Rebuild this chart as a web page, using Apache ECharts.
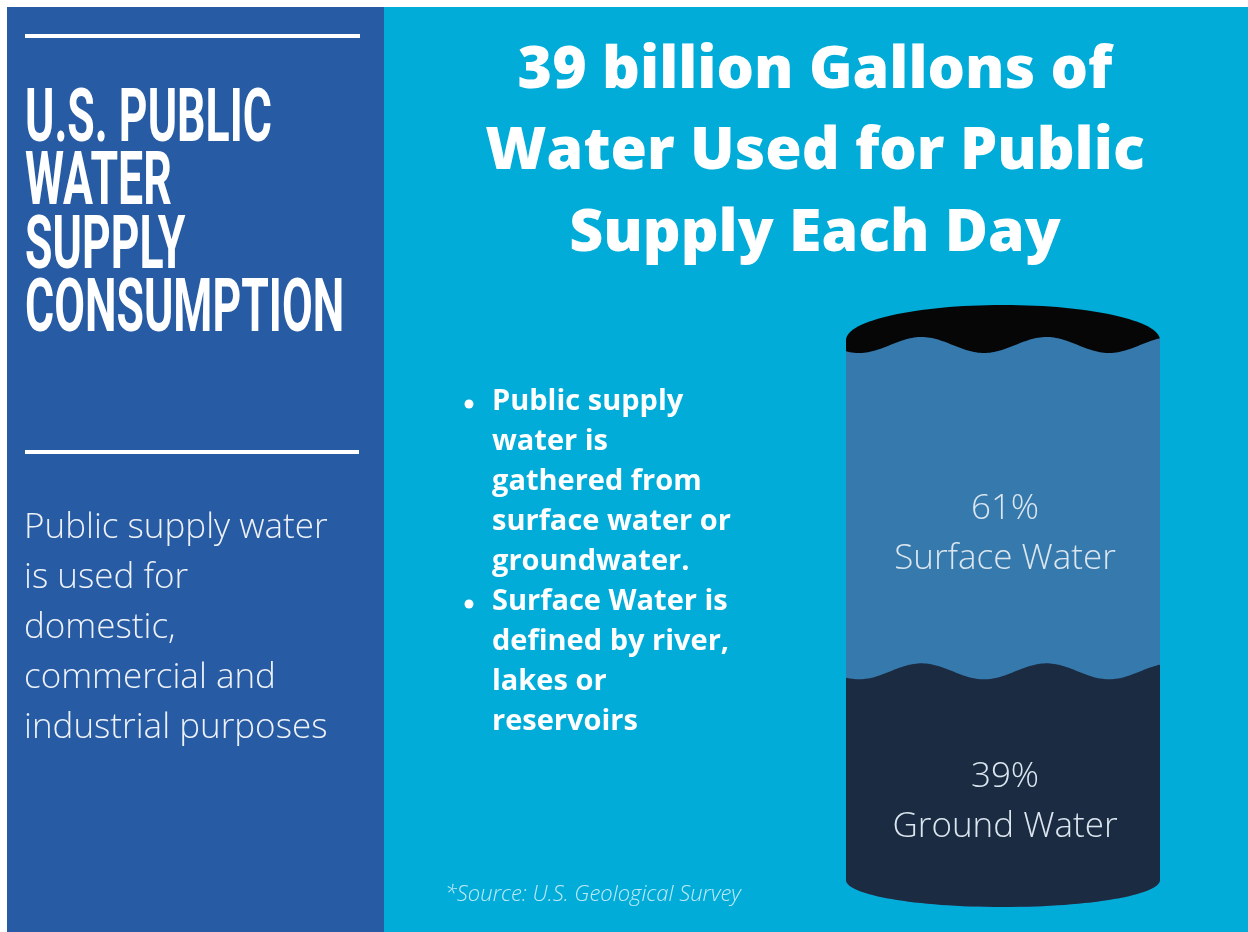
<!DOCTYPE html>
<html>
<head>
<meta charset="utf-8">
<script src="https://cdn.jsdelivr.net/npm/echarts@6/dist/echarts.min.js"></script>
<style>
  html, body { margin: 0; padding: 0; background: #ffffff; }
  #chart { width: 1248px; height: 932px; }
</style>
</head>
<body>
<div id="chart"></div>
<script>
// Where U.S. public supply water comes from (share of daily withdrawals, %)
const categories = ['Public supply'];
const sourceNames = ['Ground Water', 'Surface Water'];
const sourceShares = [39, 61];

// Text blocks
const titleLines = ['U.S. PUBLIC', 'WATER', 'SUPPLY', 'CONSUMPTION'];
const introLines = ['Public supply water', 'is used for', 'domestic,', 'commercial and', 'industrial purposes'];
const headlineLines = ['39 billion Gallons of', 'Water Used for Public', 'Supply Each Day'];
const bulletItems = [
  ['Public supply', 'water is', 'gathered from', 'surface water or', 'groundwater.'],
  ['Surface Water is', 'defined by river,', 'lakes or', 'reservoirs']
];
const sourceNote = '*Source: U.S. Geological Survey';

// Stack the shares bottom-up: [category index, start, end, share, name]
const segments = [];
let running = 0;
sourceShares.forEach((share, i) => {
  segments.push([0, running, running + share, share, sourceNames[i]]);
  running += share;
});
const total = running;

const FILLS = ['#1b2b42', '#3579ad'];
const LID = '#060606';

function renderTank(params, api) {
  const i = params.dataIndex;
  const start = api.value(1);
  const end = api.value(2);
  const share = api.value(3);
  const name = sourceNames[i];
  const top = api.coord([0, end]);
  const bot = api.coord([0, start]);
  const base = api.coord([0, 0])[1];
  const w = api.size([1, 0])[0];
  const cx = top[0];
  const x0 = cx - w / 2;
  const x1 = cx + w / 2;
  const amp = 8, period = 125, troughAt = 138;
  const wave = (x, y) => y + amp * Math.cos(2 * Math.PI * (x - x0 - troughAt) / period);
  const k = 0.5523;
  const rx = w / 2;

  // liquid body: wavy surface, straight sides, rounded base
  const ryBase = 27;
  let d = 'M' + x0 + ' ' + wave(x0, top[1]);
  for (let x = x0 + 2; x < x1; x += 2) d += ' L' + x + ' ' + wave(x, top[1]);
  d += ' L' + x1 + ' ' + wave(x1, top[1]);
  d += ' L' + x1 + ' ' + base;
  d += ' C' + x1 + ' ' + (base + k * ryBase) + ' ' + (cx + k * rx) + ' ' + (base + ryBase) + ' ' + cx + ' ' + (base + ryBase);
  d += ' C' + (cx - k * rx) + ' ' + (base + ryBase) + ' ' + x0 + ' ' + (base + k * ryBase) + ' ' + x0 + ' ' + base;
  d += ' Z';

  const children = [{
    type: 'path',
    shape: { pathData: d },
    style: { fill: FILLS[i] },
    z2: 10 + (sourceShares.length - i)
  }];

  // dark open top of the tank above the highest layer
  if (end === total) {
    const cy = top[1] - 5, ryTop = 35;
    let lid = 'M' + x0 + ' ' + (top[1] + 16);
    lid += ' L' + x0 + ' ' + cy;
    lid += ' C' + x0 + ' ' + (cy - k * ryTop) + ' ' + (cx - k * rx) + ' ' + (cy - ryTop) + ' ' + cx + ' ' + (cy - ryTop);
    lid += ' C' + (cx + k * rx) + ' ' + (cy - ryTop) + ' ' + x1 + ' ' + (cy - k * ryTop) + ' ' + x1 + ' ' + cy;
    lid += ' L' + x1 + ' ' + (top[1] + 16) + ' Z';
    children.push({ type: 'path', shape: { pathData: lid }, style: { fill: LID }, z2: 5 });
  }

  children.push({
    type: 'text',
    x: cx + 2,
    y: (top[1] + bot[1]) / 2 + 26,
    style: {
      text: share + '%\n' + name,
      align: 'center',
      verticalAlign: 'middle',
      fontFamily: 'Open Sans',
      fontWeight: 300,
      fontSize: 35,
      lineHeight: 50,
      fill: '#dbe6ef'
    },
    z2: 30
  });
  return { type: 'group', children };
}

const bulletText = bulletItems.map(b => b.join('\n')).join('\n');
const bulletLineH = 40, bulletTop = 382;

const chart = echarts.init(document.getElementById('chart'), null, { renderer: 'canvas' });
chart.setOption({
  backgroundColor: '#ffffff',
  animation: false,
  grid: { left: 846, right: 88, top: 345, bottom: 52 },
  xAxis: { type: 'category', data: categories, show: false },
  yAxis: { type: 'value', min: 0, max: 100, show: false },
  graphic: [
    { type: 'rect', z: -10, shape: { x: 7, y: 7, width: 378, height: 925 }, style: { fill: '#275ba3' } },
    { type: 'rect', z: -10, shape: { x: 384, y: 7, width: 864, height: 925 }, style: { fill: '#01acd9' } },
    { type: 'rect', z: 1, shape: { x: 25, y: 34, width: 335, height: 4 }, style: { fill: '#ffffff' } },
    { type: 'rect', z: 1, shape: { x: 25, y: 450, width: 334, height: 4 }, style: { fill: '#ffffff' } },
    {
      type: 'text', z: 1, x: 25, y: 90, scaleX: 0.595,
      style: {
        text: titleLines.join('\n'), fill: '#ffffff',
        fontFamily: 'Roboto', fontWeight: 'bold', fontSize: 75, lineHeight: 63.5,
        align: 'left', verticalAlign: 'top'
      }
    },
    {
      type: 'text', z: 1, x: 24, y: 503,
      style: {
        text: introLines.join('\n'), fill: '#eef2f8',
        fontFamily: 'Open Sans', fontWeight: 300, fontSize: 35, lineHeight: 50,
        align: 'left', verticalAlign: 'top'
      }
    },
    {
      type: 'text', z: 1, x: 815, y: 30,
      style: {
        text: headlineLines.join('\n'), fill: '#ffffff',
        fontFamily: 'Open Sans', fontWeight: 800, fontSize: 59, lineHeight: 81.5,
        align: 'center', verticalAlign: 'top'
      }
    },
    {
      type: 'text', z: 1, x: 492, y: bulletTop,
      style: {
        text: bulletText, fill: '#ffffff',
        fontFamily: 'Open Sans', fontWeight: 'bold', fontSize: 29, lineHeight: bulletLineH,
        align: 'left', verticalAlign: 'top'
      }
    },
    { type: 'circle', z: 1, shape: { cx: 469, cy: bulletTop + bulletLineH / 2 + 2, r: 4.5 }, style: { fill: '#ffffff' } },
    { type: 'circle', z: 1, shape: { cx: 469, cy: bulletTop + bulletLineH * (bulletItems[0].length + 0.5) + 2, r: 4.5 }, style: { fill: '#ffffff' } },
    {
      type: 'text', z: 1, x: 445, y: 895,
      style: {
        text: sourceNote, fill: 'rgba(226,244,251,0.85)',
        fontFamily: 'Open Sans', fontStyle: 'italic', fontWeight: 300, fontSize: 22,
        align: 'left', verticalAlign: 'middle'
      }
    }
  ],
  series: [{
    type: 'custom',
    renderItem: renderTank,
    data: segments,
    encode: { x: 0, y: [1, 2] },
    silent: true
  }]
});
</script>
</body>
</html>
